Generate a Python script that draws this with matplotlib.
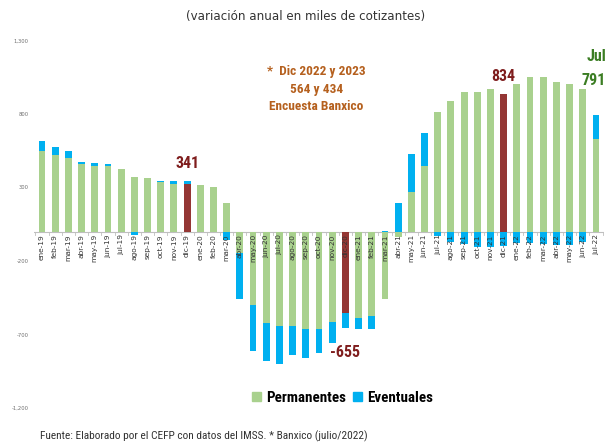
import matplotlib
matplotlib.use("Agg")
import matplotlib.pyplot as plt
from matplotlib import font_manager
import numpy as np
from matplotlib.patches import Patch

months = ["ene-19", "feb-19", "mar-19", "abr-19", "may-19", "jun-19", "jul-19", "ago-19", "sep-19", "oct-19", "nov-19", "dic-19",
          "ene-20", "feb-20", "mar-20", "abr-20", "may-20", "jun-20", "jul-20", "ago-20", "sep-20", "oct-20", "nov-20", "dic-20",
          "ene-21", "feb-21", "mar-21", "abr-21", "may-21", "jun-21", "jul-21", "ago-21", "sep-21", "oct-21", "nov-21", "dic-21",
          "ene-22", "feb-22", "mar-22", "abr-22", "may-22", "jun-22", "jul-22"]

permanentes = [549, 520, 502, 457, 443, 443, 423, 369, 362, 339, 325, 325,
               316, 301, 194, -148, -500, -620, -640, -640, -663, -663, -613, -556,
               -590, -575, -459, -35, 269, 445, 813, 887, 949, 949, 969, 935,
               1001, 1051, 1051, 1017, 1001, 969, 631]

eventuales = [68, 55, 45, 16, 25, 14, 4, -25, -5, 4, 18, 16,
              -5, -5, -55, -313, -310, -258, -261, -198, -199, -161, -143, -99,
              -73, -88, 3, 192, 260, 225, -31, -74, -83, -103, -103, -101,
              -76, -76, -87, -92, -92, -69, 160]

highlight = ["dic-19", "dic-20", "dic-21"]
totals_labels = {"dic-19": "341", "dic-20": "-655", "dic-21": "834"}
last_label = "791"

yticks = [1300, 800, 300, -200, -700, -1200]
ytick_labels = ["1,300", "800", "300", "-200", "-700", "-1,200"]

GREEN = "#A9D18E"
BLUE = "#00B0F0"
RED = "#943634"
DARKRED = "#7F1D1D"
BROWN = "#B5601E"
DKGREEN = "#3B7D23"

available = {f.name for f in font_manager.fontManager.ttflist}
narrow = [f for f in ["Liberation Sans Narrow", "Roboto Condensed", "DejaVu Sans Condensed", "Roboto"]
          if f in available] + ["DejaVu Sans"]
NARROW_IS_TRUE = narrow[0] in ("Liberation Sans Narrow", "Roboto Condensed", "DejaVu Sans Condensed")
sz_big = 11.5 if NARROW_IS_TRUE else 10.5
sz_leg = 10.8 if NARROW_IS_TRUE else 10
sz_mid = 9.6 if NARROW_IS_TRUE else 8.6

fig = plt.figure(figsize=(6.11, 4.45), dpi=100)
ax = fig.add_axes([0.0558, 0.0831, 0.9326, 0.826])

x = np.arange(len(months))
perm = np.array(permanentes, dtype=float)
ev = np.array(eventuales, dtype=float)

pcolors = [RED if m in highlight else GREEN for m in months]
width = 0.52
ax.bar(x, perm, width=width, color=pcolors, zorder=2)
bottoms = np.where(np.sign(ev) == np.sign(perm), perm, 0)
ax.bar(x, ev, width=width, bottom=bottoms, color=BLUE, zorder=2)

ax.set_xlim(-0.6, len(months) - 0.4)
ax.set_ylim(-1200, 1300)
ax.set_yticks(yticks)
ax.set_yticklabels(ytick_labels, fontsize=3.8, color="#707070")
ax.tick_params(axis="y", length=0, pad=4)

for s in ["top", "right", "left", "bottom"]:
    ax.spines[s].set_visible(False)
ax.axhline(0, color="#BFBFBF", lw=0.8, zorder=1)

ax.set_xticks(x)
ax.set_xticklabels([])
ax.tick_params(axis="x", which="major", length=0)
for xm in np.arange(-0.5, len(months), 1.0):
    ax.plot([xm, xm], [0, -22], color="#BFBFBF", lw=0.6, zorder=1)

for xi, m in zip(x, months):
    ax.text(xi, -18, m, rotation=90, ha="center", va="top", fontsize=5.3,
            color="#333333", family="DejaVu Sans", zorder=3)

for m, lab in totals_labels.items():
    i = months.index(m)
    tot = perm[i] + ev[i]
    if tot >= 0:
        top = max(perm[i], tot)
        ax.text(i, top + 120, lab, ha="center", va="center", fontsize=sz_big,
                fontweight="bold", color=DARKRED, family=narrow)
    else:
        bot = min(perm[i], tot)
        ax.text(i, bot - 170, lab, ha="center", va="center", fontsize=sz_big,
                fontweight="bold", color=DARKRED, family=narrow)

last = len(months) - 1
ax.text(last - 0.2, 1030, last_label, ha="center", va="center", fontsize=sz_big,
        fontweight="bold", color=DKGREEN, family=narrow)
ax.text(last + 0.05, 1190, "Jul", ha="center", va="center", fontsize=sz_big,
        fontweight="bold", color=DKGREEN, family=narrow)

ax.text(0.5175, 0.8, "*  Dic 2022 y 2023\n564 y 434\nEncuesta Banxico", transform=fig.transFigure,
        ha="center", va="center", fontsize=sz_mid, fontweight="bold", color=BROWN,
        family=narrow, linespacing=1.42)

fig.text(0.5, 0.962, "(variación anual en miles de cotizantes)", ha="center", va="center",
         fontsize=8.6, color="#333333", family="DejaVu Sans")
fig.text(0.066, 0.02, "Fuente: Elaborado por el CEFP con datos del IMSS. * Banxico (julio/2022)",
         ha="left", va="center", fontsize=8.2, color="#333333", family=narrow)

handles = [Patch(color=GREEN, label="Permanentes"), Patch(color=BLUE, label="Eventuales")]
fig.legend(handles=handles, loc="center", bbox_to_anchor=(0.561, 0.106), ncol=2, frameon=False,
           prop={"family": narrow, "weight": "bold", "size": sz_leg},
           handlelength=0.6, handleheight=0.6, handletextpad=0.35, columnspacing=0.45)

fig.savefig("out.png", dpi=100)
